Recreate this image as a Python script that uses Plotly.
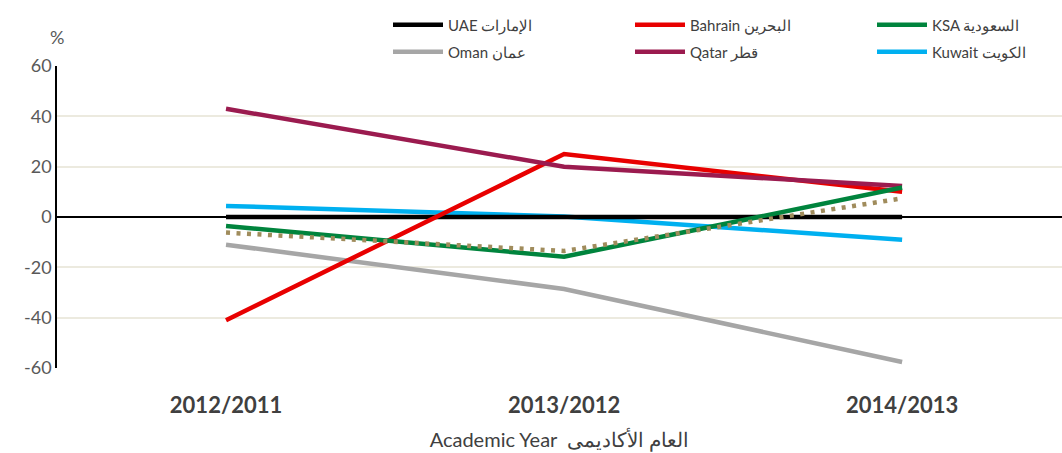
import plotly.graph_objects as go

# Academic years (categories on the x axis)
years = ["2012/2011", "2013/2012", "2014/2013"]

# Annual change (%) per country
uae = [0, 0, 0]
bahrain = [-41, 25, 10]
ksa = [-3.6, -15.8, 11.7]
oman = [-11, -28.6, -57.6]
qatar = [43, 20, 12.3]
kuwait = [4.4, 0.2, -9]
gcc_avg = [-6.2, -13.5, 7.4]

# y-axis ticks (hyphen-minus labels)
y_ticks = [-60, -40, -20, 0, 20, 40, 60]
y_tick_labels = ["-60", "-40", "-20", "0", "20", "40", "60"]

series = [
    # name, values, colour, legend group, legend rank
    ("Oman عمان", oman, "#A6A6A6", "legend2", 1),
    ("Kuwait الكويت", kuwait, "#00B0F0", "legend2", 3),
    ("UAE الإمارات", uae, "#000000", "legend", 1),
    ("Bahrain البحرين", bahrain, "#E80000", "legend", 2),
    ("Qatar قطر", qatar, "#9B1B4F", "legend2", 2),
    ("KSA السعودية", ksa, "#00843D", "legend", 3),
]

FONT = "Lato, 'Open Sans', sans-serif"

fig = go.Figure()
for name, vals, color, leg, rank in series:
    fig.add_trace(go.Scatter(
        x=years, y=vals, name=name, mode="lines",
        line=dict(color=color, width=4.5),
        legend=leg, legendrank=rank,
    ))

fig.add_trace(go.Scatter(
    x=years, y=gcc_avg, mode="lines", showlegend=False,
    line=dict(color="#A08C5C", width=4.5, dash="4px,6.5px"),
))

legend_common = dict(
    orientation="h", entrywidth=177, entrywidthmode="pixels",
    font=dict(family=FONT, size=15, color="#404040"),
    bgcolor="rgba(0,0,0,0)", itemwidth=50,
    xref="container", yref="container",
    xanchor="left", yanchor="middle", traceorder="normal",
)

fig.update_layout(
    width=1062, height=453,
    margin=dict(l=57, r=0, t=66, b=85, autoexpand=False),
    paper_bgcolor="white", plot_bgcolor="white",
    font=dict(family=FONT, color="#595959"),
    legend=dict(x=388 / 1062, y=1 - 25 / 453, **legend_common),
    legend2=dict(x=388 / 1062, y=1 - 52 / 453, **legend_common),
    xaxis=dict(
        type="category", range=[-0.5, 2.473],
        showgrid=False, showline=False, zeroline=False,
        ticks="", ticklabelstandoff=22,
        tickfont=dict(family=FONT, size=22, color="#404040", weight="bold"),
        title=dict(text="Academic Year  العام الأكاديمى",
                   font=dict(family=FONT, size=20, color="#404040"),
                   standoff=15),
    ),
    yaxis=dict(
        range=[-60, 60], tickvals=y_ticks, ticktext=y_tick_labels,
        showgrid=True, gridcolor="#ECEADF", gridwidth=1.5,
        zeroline=True, zerolinecolor="#000000", zerolinewidth=1.5,
        showline=True, linecolor="#000000", linewidth=1.5,
        ticks="", tickfont=dict(family=FONT, size=18, color="#595959"),
    ),
    annotations=[dict(
        text="%", xref="paper", yref="paper", x=0.0, y=1.0,
        yshift=29, xanchor="center", yanchor="middle", showarrow=False,
        font=dict(family=FONT, size=18, color="#595959"),
    )],
)

fig.write_html("out.html")
